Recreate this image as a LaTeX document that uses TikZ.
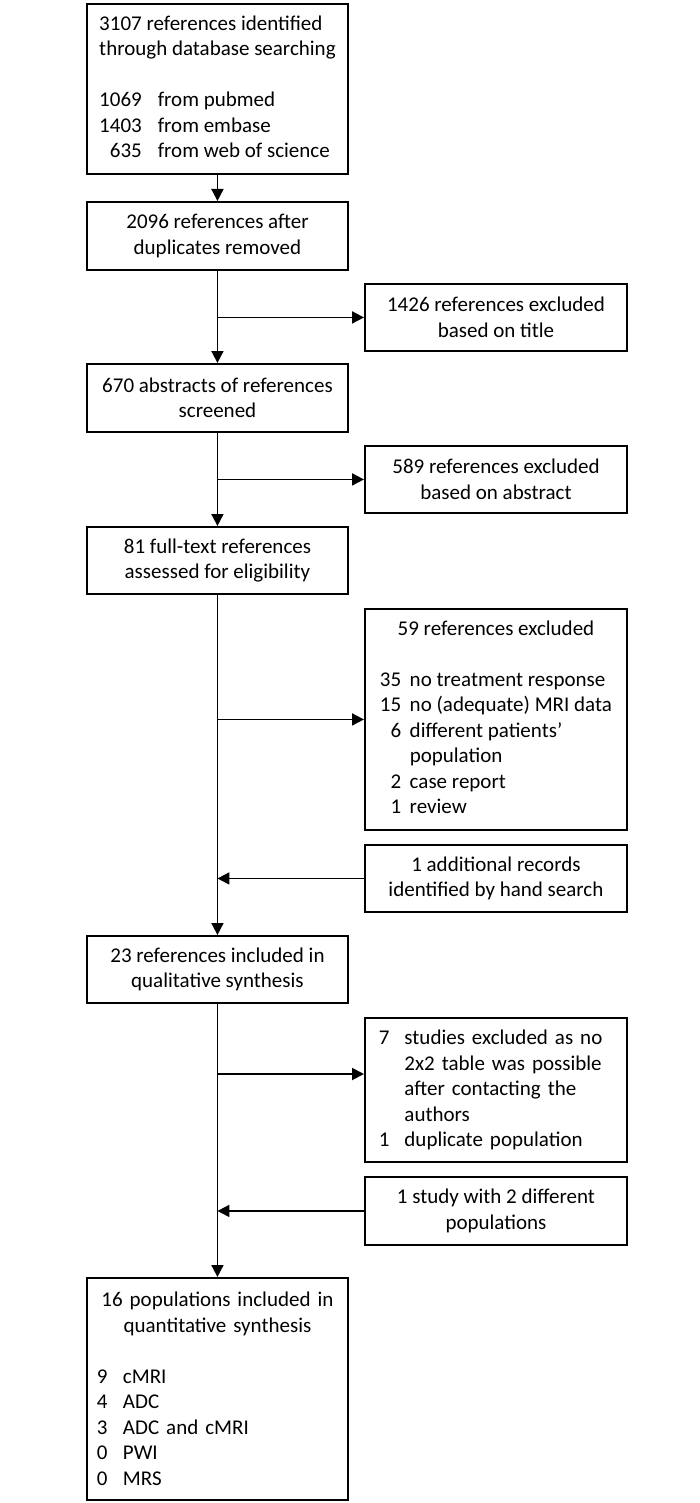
\documentclass[tikz,border=0pt]{standalone}
\usepackage{fontspec}
\setmainfont{Carlito}
\usetikzlibrary{arrows.meta}
\begin{document}
\begin{tikzpicture}[x=1pt,y=-1pt,
  flowbox/.style 2 args={draw=black, line width=1.9pt, rectangle, anchor=north west,
    minimum width=#1, minimum height=#2, inner sep=0pt, align=center,
    font=\fontsize{21}{25.5}\selectfont},
  conn/.style={line width=1.8pt, -{Triangle[length=12pt,width=12pt]}}]
\useasboundingbox[fill=white] (0,0) rectangle (700,1503);

% left column
\node[flowbox={261pt}{170pt}] (b1) at (86,3) {\begin{tabular}{@{}r@{\hspace{16pt}}l@{}}
\multicolumn{2}{@{}l@{}}{3107 references identified}\\
\multicolumn{2}{@{}l@{}}{through database searching}\\[25.5pt]
1069 & from pubmed\\
1403 & from embase\\
635 & from web of science\end{tabular}};
\node[flowbox={261pt}{68pt}] (b2) at (86,201) {2096 references after\\duplicates removed};
\node[flowbox={261pt}{68pt}] (b3) at (86,363) {670 abstracts of references\\screened};
\node[flowbox={261pt}{67pt}] (b4) at (86,526) {81 full-text references\\assessed for eligibility};
\node[flowbox={261pt}{67pt}] (b5) at (86,935) {23 references included in\\qualitative synthesis};
\node[flowbox={261pt}{222pt}, text width=241pt, align=left, inner xsep=10pt] (b6) at (86,1277)
 {\makebox[241pt]{16 populations included in}\\
  \makebox[241pt]{quantitative synthesis}\\[25.5pt]
  \makebox[26pt][l]{9}cMRI\\
  \makebox[26pt][l]{4}ADC\\
  \makebox[26pt][l]{3}ADC and cMRI\\
  \makebox[26pt][l]{0}PWI\\
  \makebox[26pt][l]{0}MRS};

% right column
\node[flowbox={262pt}{67pt}] (r1) at (364,283) {1426 references excluded\\based on title};
\node[flowbox={262pt}{67pt}] (r2) at (364,445) {589 references excluded\\based on abstract};
\node[flowbox={262pt}{221pt}] (r3) at (364,608) {\begin{tabular}{@{}r@{\hspace{8.5pt}}l@{}}
\multicolumn{2}{@{}c@{}}{59 references excluded}\\[25.5pt]
35 & no treatment response\\
15 & no (adequate) MRI data\\
6 & different patients’\\
 & population\\
2 & case report\\
1 & review\end{tabular}};
\node[flowbox={262pt}{67pt}] (r4) at (364,844) {1 additional records\\identified by hand search};
\node[flowbox={262pt}{144pt}, text width=234pt, align=left, inner xsep=14pt] (r5) at (364,1017)
 {\makebox[25.5pt][l]{7}studies excluded as no\\
  \hspace*{25.5pt}2x2 table was possible\\
  \hspace*{25.5pt}after contacting the\\
  \hspace*{25.5pt}authors\\
  \makebox[25.5pt][l]{1}duplicate population};
\node[flowbox={262pt}{68pt}] (r6) at (364,1176) {1 study with 2 different\\populations};

% main flow
\draw[conn] (b1) -- (b2);
\draw[conn] (b2) -- (b3);
\draw[conn] (b3) -- (b4);
\draw[conn] (b4) -- (b5);
\draw[conn] (b5) -- (b6);

% branches
\coordinate (j1) at (b2.south |- r1.west);
\draw[conn] (j1) -- (r1.west);
\coordinate (j2) at (b3.south |- r2.west);
\draw[conn] (j2) -- (r2.west);
\coordinate (j3) at (b4.south |- r3.west);
\draw[conn] (j3) -- (r3.west);
\coordinate (j4) at (b4.south |- r4.west);
\draw[conn] (r4.west) -- (j4);
\coordinate (j5) at (216.5,1074);
\draw[conn] (j5) -- (j5 -| r5.west);
\coordinate (j6) at (b5.south |- r6.west);
\draw[conn] (r6.west) -- (j6);
\end{tikzpicture}
\end{document}
